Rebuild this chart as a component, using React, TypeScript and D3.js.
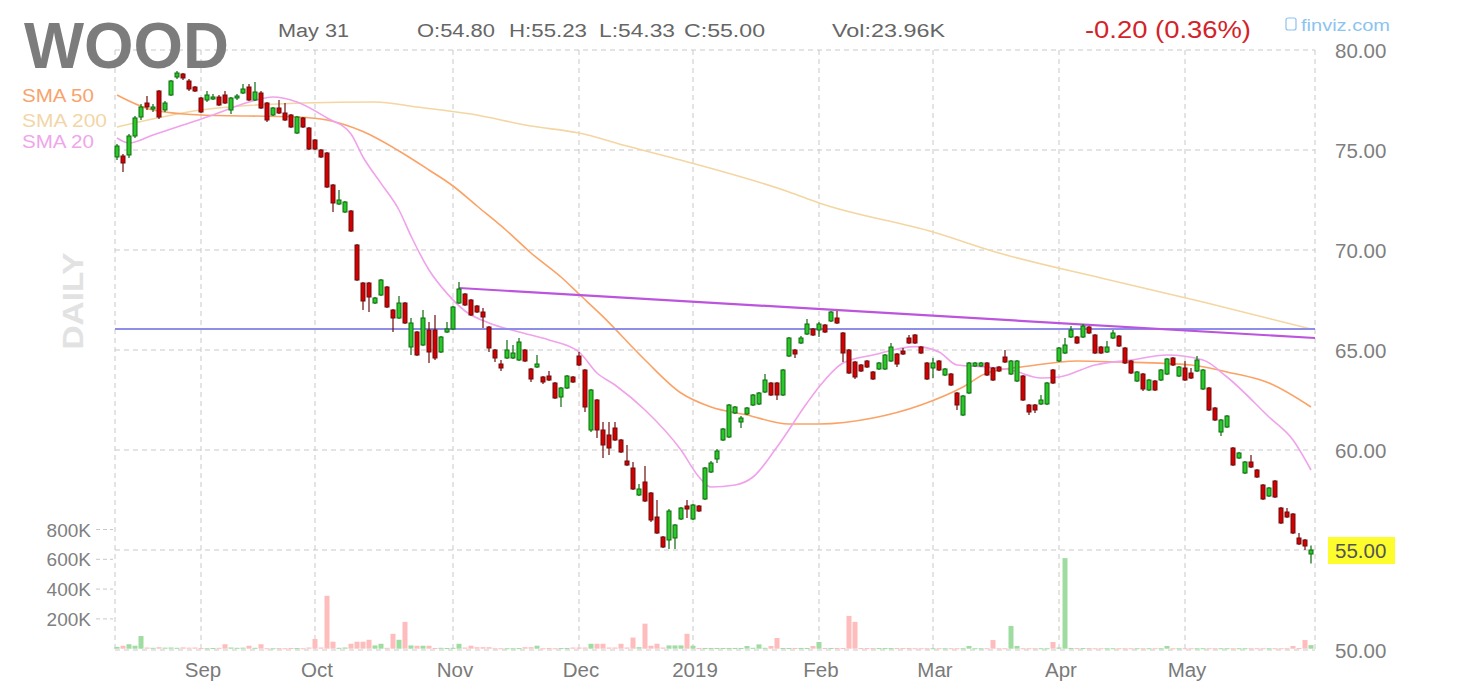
import React from "react";
import * as d3 from "d3";

// ---------- DATA ----------
const opens = [
  74.65,74.7,74.75,75.7,76.65,77.35,77.05,77.95,77.0,77.75,
  78.65,78.8,78.45,78.15,77.6,77.5,77.55,77.65,77.75,77.0,
  77.6,77.85,78.15,77.5,77.85,77.35,76.75,77.1,76.85,76.75,
  75.85,76.6,76.1,75.5,75.0,74.85,73.25,72.3,71.9,71.95,
  70.25,68.35,68.35,67.35,67.75,68.15,67.0,66.6,67.35,65.15,
  65.9,65.25,66.0,66.0,64.9,65.9,66.05,67.35,67.8,67.5,
  67.2,66.9,66.15,65.0,64.3,64.6,64.6,64.5,65.0,64.05,
  64.15,63.65,63.7,63.35,62.65,63.1,63.65,64.7,64.0,61.0,
  62.5,61.0,60.75,61.1,60.5,59.45,59.1,57.75,58.4,57.85,
  56.65,55.65,55.5,55.6,56.55,57.2,56.55,57.2,57.55,58.9,
  59.55,60.5,60.65,61.85,61.4,61.8,62.25,62.3,62.9,63.35,
  63.35,62.75,64.7,65.0,65.35,65.8,66.05,66.0,66.25,66.45,
  66.6,65.85,65.0,64.4,64.25,64.45,63.9,64.05,64.05,64.45,
  64.8,64.95,65.6,65.75,65.15,64.35,64.1,64.45,63.75,63.8,
  62.85,61.75,62.85,64.2,64.2,64.35,64.1,64.15,64.65,63.8,
  63.45,63.7,62.25,62.25,62.3,62.3,64.0,64.45,64.85,65.65,
  65.65,65.65,66.15,65.75,65.15,64.9,65.6,65.7,65.1,64.45,
  63.45,63.8,63.0,63.45,63.5,63.8,64.6,63.7,64.1,63.85,
  63.95,63.05,63.1,62.1,60.9,61.15,60.1,59.6,58.85,59.4,
  59.0,58.25,57.7,58.45,57.1,56.9,56.8,55.6,55.5,54.8,
];
const closes = [
  75.2,74.35,75.7,76.6,77.15,77.15,77.15,76.65,77.35,78.45,
  78.85,78.6,78.05,77.95,76.9,77.75,77.65,77.25,77.35,77.6,
  77.7,78.05,77.5,77.9,77.1,76.5,77.1,76.85,76.5,76.15,
  76.65,76.15,75.05,75.05,74.65,73.15,72.35,72.5,72.4,70.95,
  68.5,67.45,67.65,67.6,68.5,67.15,66.6,67.35,66.35,66.35,
  64.75,66.6,64.9,64.6,65.65,66.05,67.15,68.05,67.25,66.75,
  66.9,66.65,65.1,64.6,64.1,65.0,64.85,65.4,64.45,63.55,
  64.3,63.4,63.5,62.6,63.1,63.7,63.4,64.25,62.15,63.0,
  61.0,60.25,60.1,60.5,59.9,59.25,58.05,58.05,57.45,56.5,
  55.85,55.15,56.95,56.25,57.1,57.05,57.25,56.95,59.1,59.35,
  59.95,61.05,62.25,62.15,61.6,62.1,62.75,62.85,63.5,62.75,
  62.75,64.0,65.6,64.8,65.6,66.3,65.75,66.3,65.9,66.9,
  66.35,64.85,63.85,63.65,63.95,64.15,63.55,64.35,64.75,65.15,
  64.3,64.8,65.35,65.35,64.85,63.55,64.35,64.0,64.05,63.25,
  62.25,62.7,64.35,64.35,64.35,63.75,63.5,63.95,64.4,64.45,
  64.45,62.5,61.9,62.0,62.5,63.35,63.35,65.1,65.25,66.0,
  65.35,66.2,65.85,64.85,64.85,65.15,65.85,65.2,64.35,63.85,
  63.9,63.05,63.5,63.0,64.0,64.55,64.25,64.15,63.5,63.6,
  64.5,64.0,62.0,61.5,61.5,61.7,59.25,59.85,59.4,59.15,
  58.65,57.55,58.1,57.65,56.35,56.65,55.85,55.3,55.2,55.0,
];
const highs = [
  75.3,74.8,75.8,76.7,77.3,77.7,77.3,78.0,77.45,78.5,
  78.95,78.85,78.55,78.2,77.65,77.95,77.8,77.75,77.95,77.65,
  77.8,78.3,78.3,78.4,77.95,77.4,77.15,77.5,77.35,76.8,
  76.7,76.65,76.15,75.55,75.05,74.9,73.3,73.0,72.45,72.0,
  70.3,68.4,68.4,67.65,68.55,68.2,67.05,67.7,67.4,66.6,
  65.95,67.0,66.4,66.75,65.7,66.4,67.2,68.4,67.85,67.55,
  67.25,67.1,66.2,65.05,64.5,65.5,65.25,65.6,65.05,64.1,
  64.75,63.7,63.95,63.4,63.15,63.75,63.7,64.9,64.05,63.05,
  62.55,61.4,61.4,61.4,60.55,60.25,59.4,58.3,59.2,57.9,
  57.5,55.7,57.05,56.3,57.15,57.5,57.3,57.25,59.15,59.45,
  60.05,61.1,62.3,62.2,61.7,62.15,62.8,62.9,63.8,63.4,
  63.4,64.05,65.65,65.05,65.7,66.55,66.1,66.4,66.3,66.95,
  66.95,65.9,65.05,64.45,64.3,64.5,63.95,64.4,64.8,65.35,
  64.85,65.1,65.75,65.8,65.2,64.4,64.6,64.5,64.1,63.85,
  62.9,62.75,64.4,64.4,64.4,64.4,64.15,64.2,65.0,64.5,
  64.5,63.75,62.3,62.3,62.75,63.4,64.05,65.15,65.6,66.2,
  65.7,66.3,66.2,65.8,65.2,65.45,66.0,65.75,65.15,64.5,
  63.95,63.85,63.55,63.5,64.05,64.6,64.65,64.2,64.45,64.1,
  64.7,64.05,63.15,62.15,61.55,61.75,60.15,59.9,59.45,59.75,
  59.05,58.3,58.15,58.5,57.15,57.1,56.85,55.85,55.55,55.23,
];
const lows = [
  74.5,73.9,74.6,75.6,76.5,77.0,76.9,76.55,76.9,77.7,
  78.55,78.5,77.95,77.9,76.85,77.4,77.5,77.2,77.3,76.8,
  77.5,77.8,77.45,77.45,77.05,76.4,76.7,76.8,76.45,76.1,
  75.8,76.1,75.0,75.0,74.6,73.1,71.9,72.25,71.85,70.9,
  68.45,67.0,66.9,67.3,67.7,67.1,65.9,66.55,66.3,64.75,
  64.7,65.2,64.35,64.5,64.85,65.85,66.0,67.3,67.2,66.7,
  66.85,66.1,64.9,64.4,63.95,64.55,64.55,64.45,64.4,63.4,
  64.1,63.3,63.45,62.55,62.15,63.05,63.35,64.2,61.9,60.9,
  60.6,59.6,59.75,60.45,59.85,59.2,58.0,57.7,57.4,56.4,
  55.8,55.1,55.05,55.05,56.5,56.6,56.5,56.9,57.5,58.85,
  59.35,60.45,60.6,61.8,61.1,61.75,62.2,62.25,62.85,62.7,
  62.5,62.7,64.65,64.6,65.3,65.75,65.7,65.65,65.85,66.4,
  66.3,64.4,63.8,63.55,63.9,64.1,63.5,64.0,64.0,64.4,
  64.15,64.75,65.3,65.3,64.8,63.5,63.6,63.95,63.7,63.2,
  62.0,61.7,62.8,64.15,64.15,63.7,63.45,63.9,64.35,63.75,
  63.4,62.45,61.75,61.85,62.25,62.25,63.3,64.4,64.8,65.6,
  65.3,65.6,65.8,64.8,64.8,64.85,65.55,65.15,64.3,63.8,
  63.4,62.95,62.95,62.95,63.45,63.75,64.2,63.65,63.45,63.55,
  63.9,63.0,61.95,61.45,60.7,61.1,59.2,59.55,58.8,59.1,
  58.6,57.5,57.65,57.6,56.3,56.6,55.8,55.25,55.0,54.33,
];
// volume in thousands
const volumes = [
  12,20,30,20,85,8,6,10,7,8,
  6,9,7,8,4,3,5,6,30,8,
  6,7,20,6,30,3,3,4,3,5,
  4,3,8,65,8,355,47,6,8,33,
  47,47,60,22,33,6,100,60,180,22,
  20,20,20,5,6,5,6,33,8,20,
  10,10,10,3,3,3,3,4,10,10,
  20,3,5,3,4,5,8,8,8,33,
  33,33,8,8,33,8,75,10,168,20,
  33,8,22,22,22,100,20,5,5,5,
  5,5,5,5,5,18,6,29,6,18,
  72,5,5,5,5,5,18,45,5,5,
  5,5,220,180,4,4,4,4,4,4,
  4,4,5,3,3,3,3,3,3,3,
  3,3,18,3,3,3,58,3,3,153,
  18,3,3,3,3,3,45,8,608,5,
  4,4,4,3,3,3,3,3,3,3,
  3,3,3,3,3,18,3,3,3,3,
  3,3,3,3,3,3,3,3,3,3,
  3,3,3,3,3,3,18,4,58,24,
];

const sma200Idx = [0,14,31,43,50,59,69,77,85,92,112,117,136,147,164,181,199];
const sma200Val = [76.15,77.0,77.35,77.4,77.15,76.8,76.2,75.85,75.2,74.65,72.9,72.35,70.9,69.85,68.6,67.4,66.05];

const sma50Idx = [0,6,14,30,35,41,47,52,56,60,65,69,74,77,81,88,94,99,105,112,117,126,134,141,145,152,160,167,179,185,192,199];
const sma50Val = [77.75,77.0,76.75,76.65,76.5,75.92,74.95,74.0,73.2,72.2,70.95,69.85,68.65,67.8,66.67,64.5,62.85,62.15,61.75,61.3,61.3,61.6,62.25,63.15,63.85,64.2,64.45,64.4,64.25,63.9,63.35,62.15];

const sma20Idx = [0,2,6,11,16,22,26,30,35,39,41,44,47,49,52,55,58,62,67,72,77,80,83,88,94,97,99,103,106,110,115,117,121,126,133,137,140,145,149,154,157,163,169,175,181,185,192,196,199];
const sma20Val = [75.6,75.35,75.75,76.25,76.75,77.4,77.65,77.4,76.6,75.8,74.65,73.33,72.0,70.7,69.0,67.83,66.95,66.35,65.9,65.5,64.9,63.85,63.25,62.0,60.0,58.65,58.15,58.25,58.65,60.15,62.35,63.15,64.35,64.75,65.17,64.9,64.25,64.15,64.0,63.6,63.65,64.25,64.5,64.75,64.5,63.65,61.65,60.5,59.0];

const trendIdx = [57, 199.67];
const trendVal = [68.1, 65.6];
const levelIdx = [-0.33, 199.67];
const levelVal = [66.05, 66.05];

const monthIdx = [14, 33, 56, 77, 96, 117, 136, 157, 178];
const monthLabels = ["Sep", "Oct", "Nov", "Dec", "2019", "Feb", "Mar", "Apr", "May"];
const priceTicks = [80, 75, 70, 65, 60, 55, 50];
const volTicks = [800, 600, 400, 200];

const FONT = "'Liberation Sans', Arial, Helvetica, sans-serif";

export default function App() {
  const x = d3.scaleLinear().domain([0, 199]).range([117, 1311]);
  const y = d3.scaleLinear().domain([50, 80]).range([650, 50]);
  const yv = d3.scaleLinear().domain([0, 800]).range([648.7, 529.5]);
  const left = x(-0.33);
  const right = x(199.67);

  const smaLine = (idx: number[], val: number[]) =>
    d3
      .line<number>()
      .x((_, k) => x(idx[k]))
      .y((v) => y(v))
      .curve(d3.curveMonotoneX)(val) || "";

  const grid = "#c9c9c9";
  const dash = "5,4";

  return (
    <div style={{ position: "absolute", left: 0, top: 0, background: "#fff" }}>
      <svg width={1476} height={698} style={{ display: "block" }} fontFamily={FONT}>
        <rect x={0} y={0} width={1476} height={698} fill="#fff" />

        {/* DAILY watermark */}
        <text
          transform="translate(83,301) rotate(-90)"
          textAnchor="middle"
          fontSize={30}
          fontWeight="bold"
          fill="#e2e2e2"
          textLength={97}
          lengthAdjust="spacingAndGlyphs"
        >
          DAILY
        </text>

        {/* grid */}
        {priceTicks.map((p) => (
          <line key={"h" + p} x1={left} x2={right} y1={y(p)} y2={y(p)} stroke={grid} strokeDasharray={dash} />
        ))}
        {[left, right].map((xx, k) => (
          <line key={"b" + k} x1={xx} x2={xx} y1={y(80)} y2={y(50)} stroke={grid} strokeDasharray={dash} />
        ))}
        {monthIdx.map((m) => (
          <line key={"v" + m} x1={x(m)} x2={x(m)} y1={y(80)} y2={y(50)} stroke={grid} strokeDasharray={dash} />
        ))}

        {/* volume ticks and labels */}
        {volTicks.map((v) => (
          <g key={"vt" + v}>
            <line x1={96} x2={113} y1={yv(v)} y2={yv(v)} stroke={grid} strokeDasharray="4,3" />
            <text x={91} y={yv(v) + 7} textAnchor="end" fontSize={19} fill="#808080">
              {v}K
            </text>
          </g>
        ))}

        {/* volume bars */}
        {volumes.map((v, i) => {
          const up = closes[i] >= opens[i];
          const top = yv(v);
          return (
            <rect
              key={"vol" + i}
              x={x(i) - 2.5}
              y={top}
              width={5}
              height={Math.max(yv(0) - top, 1)}
              fill={up ? "#9fdc9f" : "#ffbcbc"}
            />
          );
        })}

        {/* SMA lines */}
        <path d={smaLine(sma200Idx, sma200Val)} fill="none" stroke="#f3d6a2" strokeWidth={1.6} />
        <path d={smaLine(sma50Idx, sma50Val)} fill="none" stroke="#fba267" strokeWidth={1.6} />
        <path d={smaLine(sma20Idx, sma20Val)} fill="none" stroke="#f0a2ea" strokeWidth={1.6} />

        {/* level and trend lines */}
        <line
          x1={x(levelIdx[0])}
          x2={x(levelIdx[1])}
          y1={y(levelVal[0])}
          y2={y(levelVal[1])}
          stroke="#8e8ee8"
          strokeWidth={2}
        />
        <line
          x1={x(trendIdx[0])}
          x2={x(trendIdx[1])}
          y1={y(trendVal[0])}
          y2={y(trendVal[1])}
          stroke="#bb55dd"
          strokeWidth={2.2}
        />

        {/* candles */}
        {opens.map((o, i) => {
          const c = closes[i];
          const up = c >= o;
          const top = y(Math.max(o, c));
          const bot = y(Math.min(o, c));
          const edge = up ? "#0d6b0d" : "#6e0d0d";
          return (
            <g key={"c" + i}>
              <line x1={x(i)} x2={x(i)} y1={y(highs[i])} y2={y(lows[i])} stroke={edge} strokeWidth={1.2} />
              <rect
                x={x(i) - 2}
                y={top}
                width={4}
                height={Math.max(bot - top, 1.5)}
                fill={up ? "#28c828" : "#d20000"}
                stroke={edge}
                strokeWidth={1}
              />
            </g>
          );
        })}

        {/* price axis labels */}
        {priceTicks.map((p) =>
          p === 55 ? null : (
            <text key={"pl" + p} x={1335} y={y(p) + 8} fontSize={20.5} fill="#7f7f7f">
              {p.toFixed(2)}
            </text>
          )
        )}
        <rect x={1328} y={y(55) - 13} width={67} height={27} fill="#fdfd2e" />
        <text x={1335} y={y(55) + 8} fontSize={20.5} fill="#555">
          {(55).toFixed(2)}
        </text>

        {/* month labels */}
        {monthIdx.map((m, k) => (
          <text key={"ml" + m} x={x(m) + 2} y={677} textAnchor="middle" fontSize={20.5} fill="#7a7a7a">
            {monthLabels[k]}
          </text>
        ))}

        {/* header */}
        <text x={24} y={68} fontSize={64} fontWeight="bold" fill="#7c7c7c" textLength={205} lengthAdjust="spacingAndGlyphs">
          WOOD
        </text>
        <text x={278} y={37} fontSize={18} fill="#666" textLength={71} lengthAdjust="spacingAndGlyphs">May 31</text>
        <text x={417} y={37} fontSize={18} fill="#666" textLength={78} lengthAdjust="spacingAndGlyphs">O:54.80</text>
        <text x={509} y={37} fontSize={18} fill="#666" textLength={78} lengthAdjust="spacingAndGlyphs">H:55.23</text>
        <text x={599} y={37} fontSize={18} fill="#666" textLength={76} lengthAdjust="spacingAndGlyphs">L:54.33</text>
        <text x={684} y={37} fontSize={18} fill="#666" textLength={81} lengthAdjust="spacingAndGlyphs">C:55.00</text>
        <text x={832} y={37} fontSize={18} fill="#666" textLength={113} lengthAdjust="spacingAndGlyphs">Vol:23.96K</text>
        <text x={1085} y={38} fontSize={23} fill="#d3232a" textLength={166} lengthAdjust="spacingAndGlyphs">-0.20 (0.36%)</text>
        <rect x={1286} y={18} width={10} height={12} rx={2} fill="none" stroke="#8cc4ef" strokeWidth={1.2} />
        <text x={1301} y={31} fontSize={16} fill="#8cc4ef" textLength={89} lengthAdjust="spacingAndGlyphs">finviz.com</text>

        {/* legend */}
        <text x={22} y={102} fontSize={19} fill="#f8a36c" textLength={72} lengthAdjust="spacingAndGlyphs">SMA 50</text>
        <text x={22} y={127} fontSize={19} fill="#f2d6a8" textLength={85} lengthAdjust="spacingAndGlyphs">SMA 200</text>
        <text x={22} y={148} fontSize={19} fill="#efa6ea" textLength={72} lengthAdjust="spacingAndGlyphs">SMA 20</text>
      </svg>
    </div>
  );
}
